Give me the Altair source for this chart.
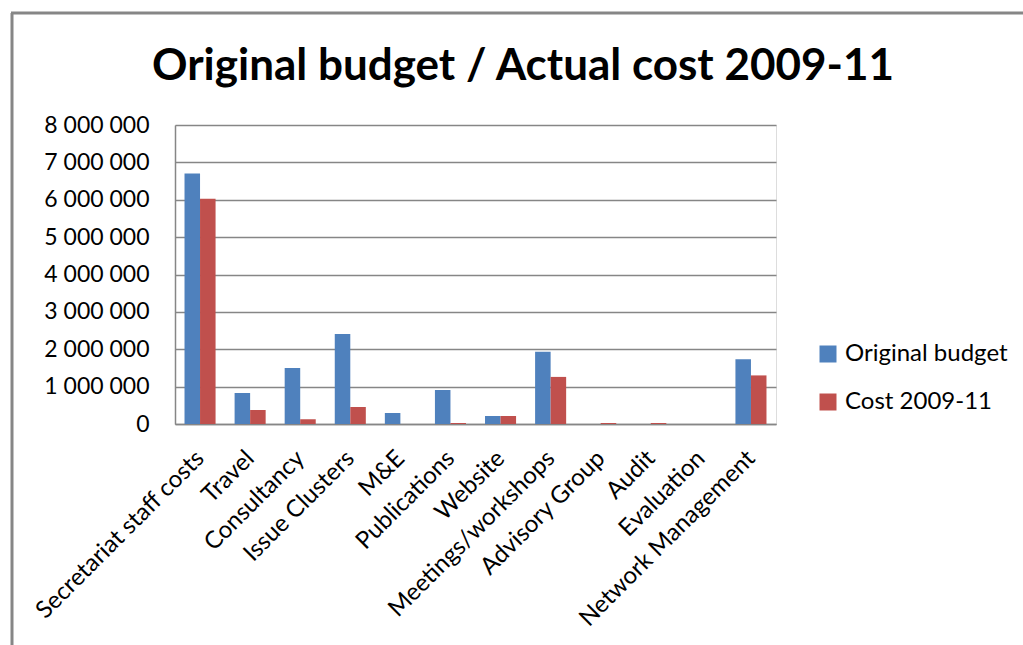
import altair as alt
import pandas as pd

title_text = "Original budget / Actual cost 2009-11"
categories = ["Secretariat staff costs", "Travel", "Consultancy", "Issue Clusters", "M&E",
              "Publications", "Website", "Meetings/workshops", "Advisory Group", "Audit",
              "Evaluation", "Network Management"]
series = ["Original budget", "Cost 2009-11"]
budget = [6700000, 830000, 1500000, 2410000, 295000, 910000, 214000, 1930000, 0, 0, 0, 1730000]
cost = [6030000, 375000, 130000, 455000, 0, 27000, 214000, 1260000, 27000, 27000, 0, 1300000]
y_ticks = [0, 1000000, 2000000, 3000000, 4000000, 5000000, 6000000, 7000000, 8000000]
colors = ["#4F81BD", "#C0504D"]

rows = []
for i, c in enumerate(categories):
    rows.append({"category": c, "series": series[0], "value": budget[i]})
    rows.append({"category": c, "series": series[1], "value": cost[i]})
df = pd.DataFrame(rows)

FONT = "Lato"
GRID = "#868686"

bars = alt.Chart(df).mark_bar().encode(
    x=alt.X("category:N", sort=categories,
            scale=alt.Scale(paddingInner=0.38, paddingOuter=0.19),
            axis=alt.Axis(title=None, labelAngle=-45, labelFontSize=24, labelFont=FONT,
                          labelColor="black", ticks=False, domainColor=GRID, domainWidth=1.5,
                          labelPadding=22, labelOffset=-8, labelLimit=400)),
    xOffset=alt.XOffset("series:N", sort=series),
    y=alt.Y("value:Q", scale=alt.Scale(domain=[0, 8000000]),
            axis=alt.Axis(title=None, values=y_ticks, labelFontSize=23, labelFont=FONT,
                          labelColor="black", ticks=False, domainColor=GRID, domainWidth=1.5,
                          gridColor=GRID, gridWidth=1.6, labelPadding=26,
                          labelExpr="replace(format(datum.value, ','), regexp(',', 'g'), ' ')")),
    color=alt.Color("series:N", sort=series, scale=alt.Scale(domain=series, range=colors),
                    legend=alt.Legend(title=None, orient="none", legendX=641, legendY=217,
                                      symbolType="square", symbolSize=289, symbolStrokeWidth=0,
                                      labelFontSize=24, labelFont=FONT, labelColor="black",
                                      rowPadding=24, labelOffset=5, labelLimit=400)),
)

one = alt.Data(values=[{}])
frame = alt.Chart(one).mark_rule(color=GRID, strokeWidth=3).encode(
    x=alt.value(-163), y=alt.value(-112), y2=alt.value(530)
)
frame_top = alt.Chart(one).mark_rule(color=GRID, strokeWidth=3).encode(
    x=alt.value(-164), x2=alt.value(860), y=alt.value(-112)
)
title = alt.Chart(one).mark_text(fontSize=44, font=FONT, fontWeight="bold", color="black",
                                 align="center", baseline="alphabetic").encode(
    x=alt.value(348), y=alt.value(-45), text=alt.value(title_text)
)

chart = alt.layer(bars, frame, frame_top, title).properties(
    width=601, height=299,
    padding={"left": 175, "top": 125, "right": 247, "bottom": 221},
    autosize=alt.AutoSizeParams(type="none"),
).configure_view(stroke=None).configure(background="white")

chart.save("out.html", embed_options={"renderer": "svg", "actions": False})
